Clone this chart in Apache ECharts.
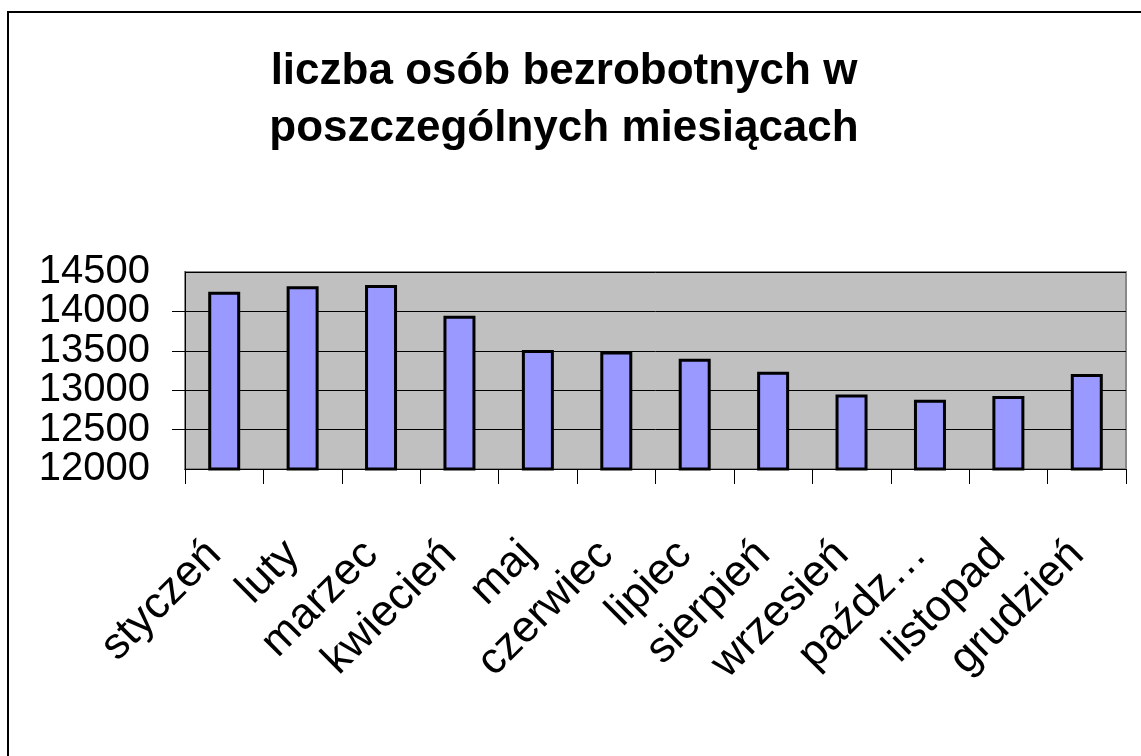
<!DOCTYPE html>
<html>
<head>
<meta charset="utf-8">
<style>
  html, body { margin: 0; padding: 0; background: #fff; }
  #chart { width: 1141px; height: 756px; }
</style>
</head>
<body>
<div id="chart"></div>
<script src="https://cdn.jsdelivr.net/npm/echarts@6/dist/echarts.min.js"></script>
<script type="text/javascript">
var months = ['styczeń', 'luty', 'marzec', 'kwiecień', 'maj', 'czerwiec',
              'lipiec', 'sierpień', 'wrzesień', 'październik', 'listopad', 'grudzień'];
var unemployed = [14250, 14320, 14335, 13945, 13510, 13490,
                  13400, 13235, 12945, 12880, 12925, 13205];
var yMin = 12000, yMax = 14500, yStep = 500;

var myChart = echarts.init(document.getElementById('chart'));

var labelFont = {
    margin: 35,
    hideOverlap: false,
    fontFamily: 'Liberation Sans',
    fontSize: 40,
    color: '#000'
};

var option = {
    backgroundColor: '#fff',
    animation: false,
    title: {
        text: 'liczba osób bezrobotnych w\nposzczególnych miesiącach',
        left: 559,
        top: 38,
        textAlign: 'center',
        textStyle: {
            fontFamily: 'Liberation Sans',
            fontWeight: 'bold',
            fontSize: 44,
            lineHeight: 57,
            color: '#000'
        }
    },
    graphic: [{
        type: 'rect',
        shape: { x: 8, y: 12, width: 1200, height: 900 },
        style: { fill: 'none', stroke: '#000', lineWidth: 2 },
        silent: true
    }],
    grid: {
        left: 185,
        top: 272,
        right: 15,
        bottom: 287,
        show: true,
        backgroundColor: '#c0c0c0',
        borderColor: '#888',
        borderWidth: 2
    },
    xAxis: {
        type: 'category',
        data: months,
        boundaryGap: true,
        axisLine: { lineStyle: { color: '#000', width: 1 } },
        axisTick: { show: true, length: 15, inside: false, lineStyle: { color: '#000' } },
        axisLabel: {
            rotate: 45,
            margin: 69,
            padding: [0, 14, 0, 0],
            interval: 0,
            hideOverlap: false,
            fontFamily: 'Liberation Sans',
            fontSize: 44,
            color: '#000',
            formatter: function (v) { return v.length > 9 ? v.slice(0, 5) + '…' : v; }
        }
    },
    yAxis: [{
        // inner tick labels, grid lines, ticks
        type: 'value',
        min: yMin,
        max: yMax,
        interval: yStep,
        axisLine: { show: true, lineStyle: { color: '#000', width: 1 } },
        axisTick: { show: true, length: 13, lineStyle: { color: '#000' } },
        splitLine: { show: true, lineStyle: { color: '#000', width: 1 } },
        axisLabel: Object.assign({
            showMinLabel: false,
            showMaxLabel: false,
            formatter: function (v) { return String(v); }
        }, labelFont)
    }, {
        // min / max labels only (12000, 14500)
        type: 'value',
        position: 'left',
        min: yMin,
        max: yMax,
        interval: yStep,
        axisLine: { show: false },
        axisTick: { show: false },
        splitLine: { show: false },
        axisLabel: Object.assign({
            showMinLabel: true,
            showMaxLabel: true,
            formatter: function (v) { return (v === yMin || v === yMax) ? String(v) : ''; }
        }, labelFont)
    }],
    series: [{
        type: 'bar',
        data: unemployed,
        barWidth: 32,
        itemStyle: {
            color: '#9999ff',
            borderColor: '#000',
            borderWidth: 3
        }
    }]
};
myChart.setOption(option);
</script>
</body>
</html>
